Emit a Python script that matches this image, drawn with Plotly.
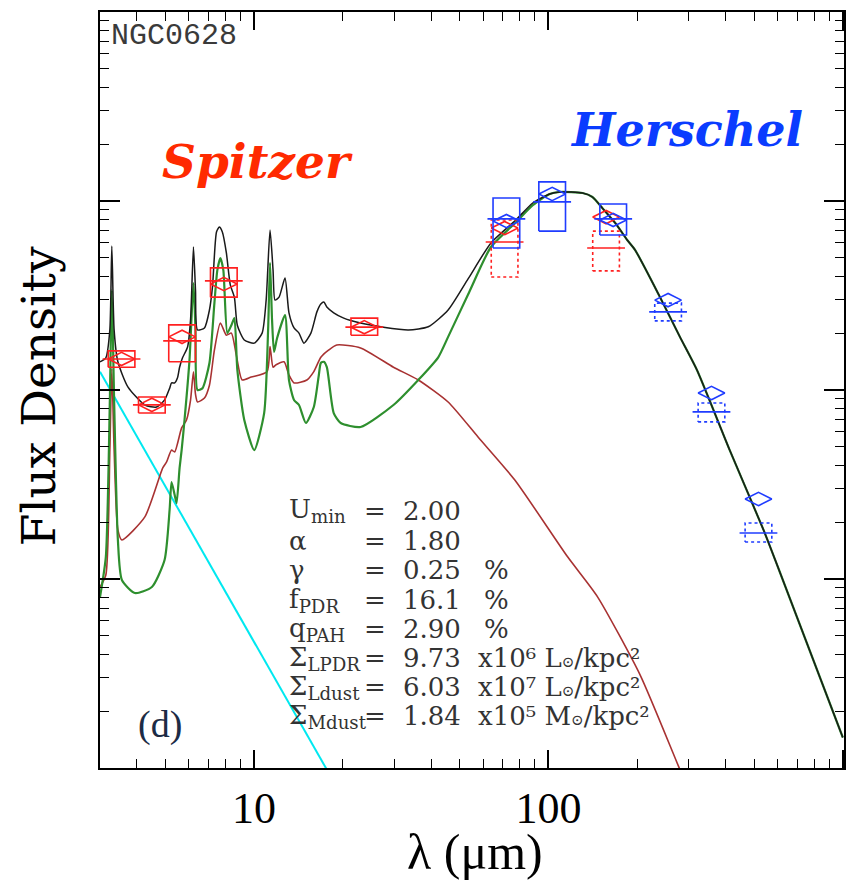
import plotly.graph_objects as go

# ---------------- model curves (wavelength in micron, flux in arbitrary units) ----
total_wl = [3.00, 3.14, 3.24, 3.29, 3.35, 3.45, 3.73, 4.26, 4.67, 4.97, 5.17, 5.25, 5.38, 5.50, 5.59,
            5.72, 5.95, 6.09, 6.23, 6.33, 6.43, 6.79, 7.06, 7.23, 7.46, 7.63, 7.81, 8.06, 8.31, 8.58,
            8.78, 9.27, 10.02, 10.66, 11.00, 11.34, 11.61, 11.79, 12.17, 12.75, 13.15, 13.68, 14.22,
            14.78, 15.61, 16.36, 16.87, 17.27, 17.68, 18.66, 20.18, 23.02, 27.54, 33.45, 39.08, 45.65,
            53.36, 63.82, 77.5, 88.5, 101.0, 109.1, 130.6, 141.1, 152.5, 168.7, 185.2, 197.1, 239.4,
            279.7, 319.3, 412.8, 537.8, 604.1, 1000.0]
total_f = [14.1, 14.8, 20.8, 57.8, 20.8, 14.1, 10.4, 8.33, 8.13, 8.85, 10.2, 10.9, 10.9, 11.6, 13.2,
           14.8, 16.9, 23.5, 57.1, 33.8, 20.8, 21.3, 26.5, 35.1, 68.5, 72.8, 68.5, 53.1, 36.0, 31.0,
           22.0, 18.4, 17.7, 20.0, 29.9, 70.2, 43.1, 29.9, 31.0, 39.1, 25.6, 21.3, 20.0,
           17.7, 20.0, 25.9, 28.5, 29.2, 27.5, 25.6, 24.0, 22.6, 21.5, 20.8, 21.6, 26.5,
           38.7, 60.0, 79.3, 97.6, 108.9, 111.6, 110.2, 105.0, 91.8, 76.5, 62.2, 55.0, 31.0,
           19.1, 12.8, 4.81, 1.82, 1.14, 0.145]

pdr_wl = [3.00, 3.14, 3.24, 3.29, 3.35, 3.45, 3.56, 3.94, 4.50, 4.97, 5.17, 5.25, 5.38, 5.46, 5.59,
          5.68, 5.81, 6.04, 6.23, 6.33, 6.43, 6.68, 7.06, 7.34, 7.51, 7.69, 7.87, 8.12, 8.38, 8.58,
          8.78, 9.27, 10.02, 10.83, 11.17, 11.34, 11.52, 11.70, 11.98, 12.75, 13.15, 13.68, 14.22,
          15.01, 15.97, 16.61, 16.87, 17.27, 17.68, 18.66, 19.71, 23.02, 29.77, 36.15, 42.25, 45.65,
          53.36, 63.82, 77.5, 88.5, 101.0, 109.1, 130.6, 141.1, 152.5, 168.7, 185.2, 197.1, 239.4,
          279.7, 319.3, 412.8, 537.8, 604.1, 1000.0]
pdr_f = [0.803, 1.31, 8.85, 33.8, 8.85, 1.61, 0.988, 0.843, 0.907, 1.26, 2.32, 3.26, 2.78, 2.52, 3.87,
         4.81, 6.94, 14.4, 36.8, 20.8, 10.0, 10.2, 13.9, 28.9, 43.1, 49.9, 43.1, 20.0, 22.0, 24.0,
         12.8, 6.94, 4.81, 7.55, 20.8, 47.0, 23.5, 15.9, 18.8, 24.9, 11.3, 8.85, 8.33,
         6.69, 8.13, 12.0, 13.9, 14.1, 13.2, 7.55, 6.69, 6.37, 8.33, 11.3, 14.9, 19.1,
         32.0, 57.1, 77.0, 95.0, 108.9, 111.6, 110.2, 105.0, 91.8, 76.5, 62.2, 55.0, 31.0,
         19.1, 12.8, 4.81, 1.82, 1.14, 0.145]

diffuse_wl = [3.00, 3.14, 3.24, 3.29, 3.35, 3.45, 3.56, 4.26, 4.90, 5.05, 5.25, 5.38, 5.68, 5.90, 6.09,
              6.23, 6.33, 6.43, 6.79, 7.06, 7.34, 7.69, 8.06, 8.38, 8.71, 9.12, 9.79, 11.08, 11.34,
              11.61, 11.89, 12.65, 13.15, 13.68, 15.13, 15.97, 16.87, 17.96, 19.11, 23.02, 29.77,
              36.15, 45.65, 57.68, 76.91, 116.2, 146.7, 205.0, 277.5, 320.0]
diffuse_f = [0.907, 1.05, 4.81, 13.0, 4.81, 1.82, 1.61, 2.13, 3.87, 4.16, 4.81, 4.70, 6.30, 6.94, 8.85,
             12.5, 9.5, 8.64, 9.07, 10.6, 16.3, 22.6, 19.5, 20.0, 15.3, 11.3, 11.7, 12.5, 17.0,
             13.2, 13.6, 14.1, 12.0, 10.9, 11.3, 12.5, 14.9, 16.3, 17.3, 16.7, 13.2,
             11.3, 8.64, 5.64, 3.34, 1.31, 0.807, 0.310, 0.101, 0.060]

stars_wl = [3.0, 5.0, 10.0, 20.0]
stars_f = [12.5, 3.08, 0.465, 0.070]

# ---------------- observations ----------------
spitzer_wl = [3.55, 4.5, 5.7, 7.9, 23.7]
spitzer_val = [14.6, 8.34, 18.2, 37.8, 21.5]
spitzer_hi = [16.1, 9.18, 22.1, 44.3, 24.0]
spitzer_lo = [13.2, 7.55, 14.1, 31.0, 19.5]
spitzer_mod = [14.6, 8.34, 19.1, 36.4, 21.5]

mips_wl = [71.0, 157.0]
mips_val = [60.7, 56.4]
mips_hi = [79.3, 69.3]
mips_lo = [39.6, 42.7]
mips_mod = [71.9, 82.2]

pacs_wl = [72.0, 103.0, 166.0]
pacs_val = [80.4, 98.9, 80.4]
pacs_hi = [103.8, 126.2, 96.4]
pacs_lo = [56.4, 69.3, 66.1]
pacs_mod = [78.3, 108.9, 79.4]

spire_wl = [255.0, 358.0, 517.0]
spire_val = [25.9, 7.66, 1.75]
spire_hi = [28.8, 8.53, 1.98]
spire_lo = [23.2, 6.78, 1.57]
spire_mod = [29.9, 9.64, 2.65]

SUN = "<span style='font-size:15px'>⊙</span>"
par_labels = ["U<sub>min</sub>", "α", "γ", "f<sub>PDR</sub>", "q<sub>PAH</sub>",
              "Σ<sub>LPDR</sub>", "Σ<sub>Ldust</sub>", "Σ<sub>Mdust</sub>"]
par_values = ["2.00", "1.80", "0.25", "16.1", "2.90", "9.73", "6.03", "1.84"]
par_units = ["", "", "%", "%", "%",
             "x10⁶ L" + SUN + "/kpc²",
             "x10⁷ L" + SUN + "/kpc²",
             "x10⁵ M" + SUN + "/kpc²"]

RED = "#ff2020"
BLUE = "#1f3cff"
BOXW = 1.11  # half-width factor of the photometry boxes (log axis)

fig = go.Figure()


def box_path(wl, lo, hi):
    xs, ys = [], []
    for w, l, h in zip(wl, lo, hi):
        xs += [w / BOXW, w * BOXW, w * BOXW, w / BOXW, w / BOXW, None]
        ys += [l, l, h, h, l, None]
    return xs, ys


def add_obs(wl, val, lo, hi, mod, color, dash, modcolor):
    xs, ys = box_path(wl, lo, hi)
    fig.add_trace(go.Scatter(x=xs, y=ys, mode="lines", line=dict(color=color, width=1.6, dash=dash),
                             hoverinfo="skip", showlegend=False))
    fig.add_trace(go.Scatter(x=wl, y=val, mode="markers",
                             marker=dict(symbol="line-ew-open", size=27, color=color,
                                         line=dict(color=color, width=1.6)),
                             showlegend=False))
    fig.add_trace(go.Scatter(x=wl, y=mod, mode="markers",
                             marker=dict(symbol="diamond-wide-open", size=19, color=modcolor,
                                         line=dict(color=modcolor, width=1.6)),
                             showlegend=False))


SPL = dict(shape="spline", smoothing=0.6)

# model curves
fig.add_trace(go.Scatter(x=stars_wl, y=stars_f, mode="lines",
                         line=dict(color="#00e8f0", width=2), showlegend=False))
fig.add_trace(go.Scatter(x=diffuse_wl, y=diffuse_f, mode="lines",
                         line=dict(color="#a83232", width=1.6, **SPL), showlegend=False))
fig.add_trace(go.Scatter(x=pdr_wl, y=pdr_f, mode="lines",
                         line=dict(color="#2e8f2e", width=2.2, **SPL), showlegend=False))
fig.add_trace(go.Scatter(x=total_wl, y=total_f, mode="lines",
                         line=dict(color="#1a1a1a", width=1.5, **SPL), showlegend=False))

# observations
add_obs(mips_wl, mips_val, mips_lo, mips_hi, mips_mod, RED, "dot", RED)
add_obs(spire_wl, spire_val, spire_lo, spire_hi, spire_mod, BLUE, "dot", BLUE)
add_obs(spitzer_wl, spitzer_val, spitzer_lo, spitzer_hi, spitzer_mod, RED, "solid", RED)
add_obs(pacs_wl, pacs_val, pacs_lo, pacs_hi, pacs_mod, BLUE, "solid", BLUE)

W, H = 846, 882
L, R, T, B = 100, 0, 12, 114
PW, PH = W - L - R, H - T - B


def px(x):
    return (x - L) / PW


def py(y):
    return (H - B - y) / PH


ann = []
ann.append(dict(x=px(109), y=py(36), text="NGC0628", xanchor="left", yanchor="middle",
                font=dict(family="Liberation Mono", size=30, color="#3a3a3a"), showarrow=False))
ann.append(dict(x=px(258), y=py(162), text="<b><i>Spitzer</i></b>", xanchor="center", yanchor="middle",
                font=dict(family="DejaVu Serif", size=47, color="#ff2a00"), showarrow=False))
ann.append(dict(x=px(688), y=py(130), text="<b><i>Herschel</i></b>", xanchor="center", yanchor="middle",
                font=dict(family="DejaVu Serif", size=46, color="#0a3cff"), showarrow=False))
ann.append(dict(x=px(160), y=py(724), text="(d)", xanchor="center", yanchor="middle",
                font=dict(family="Liberation Serif", size=38, color="#1c2b45"), showarrow=False))
ann.append(dict(x=px(38), y=py(396), text="Flux Density", textangle=-90, xanchor="center",
                yanchor="middle", font=dict(family="DejaVu Serif", size=47, color="black"),
                showarrow=False))
ann.append(dict(x=px(476), y=py(852), text="λ (μm)", xanchor="center", yanchor="middle",
                font=dict(family="Liberation Serif", size=50, color="black"), showarrow=False))

row_y = [511, 541, 570, 600, 629, 658, 687, 716]
pfont = dict(family="DejaVu Serif", size=26, color="#333333")
for i in range(len(par_labels)):
    yy = row_y[i]
    ann.append(dict(x=px(288), y=py(yy), text=par_labels[i], xanchor="left", yanchor="middle",
                    font=pfont, showarrow=False))
    ann.append(dict(x=px(376), y=py(yy), text="=", xanchor="center", yanchor="middle",
                    font=pfont, showarrow=False))
    ann.append(dict(x=px(402), y=py(yy), text=par_values[i], xanchor="left", yanchor="middle",
                    font=pfont, showarrow=False))
    if par_units[i]:
        ux = 483 if par_units[i] == "%" else 477
        ann.append(dict(x=px(ux), y=py(yy), text=par_units[i], xanchor="left", yanchor="middle",
                        font=pfont, showarrow=False))

for a in ann:
    a["xref"] = "paper"
    a["yref"] = "paper"

axis_common = dict(type="log", showgrid=False, zeroline=False, ticks="inside", mirror="allticks",
                   showline=True, linecolor="black", linewidth=2, tickcolor="black",
                   tickwidth=1.5, dtick=1,
                   minor=dict(ticks="inside", ticklen=9, tickcolor="black", tickwidth=1.2,
                              showgrid=False))

fig.update_layout(
    width=W, height=H,
    margin=dict(l=L, r=R, t=T, b=B),
    paper_bgcolor="white", plot_bgcolor="white",
    showlegend=False,
    annotations=ann,
    xaxis=dict(range=[0.4771, 3.004], ticklen=18,
               tickfont=dict(family="Liberation Serif", size=44, color="black"),
               **axis_common),
    yaxis=dict(range=[-1, 3], ticklen=20, showticklabels=False, **axis_common),
)

fig.write_html("out.html")
